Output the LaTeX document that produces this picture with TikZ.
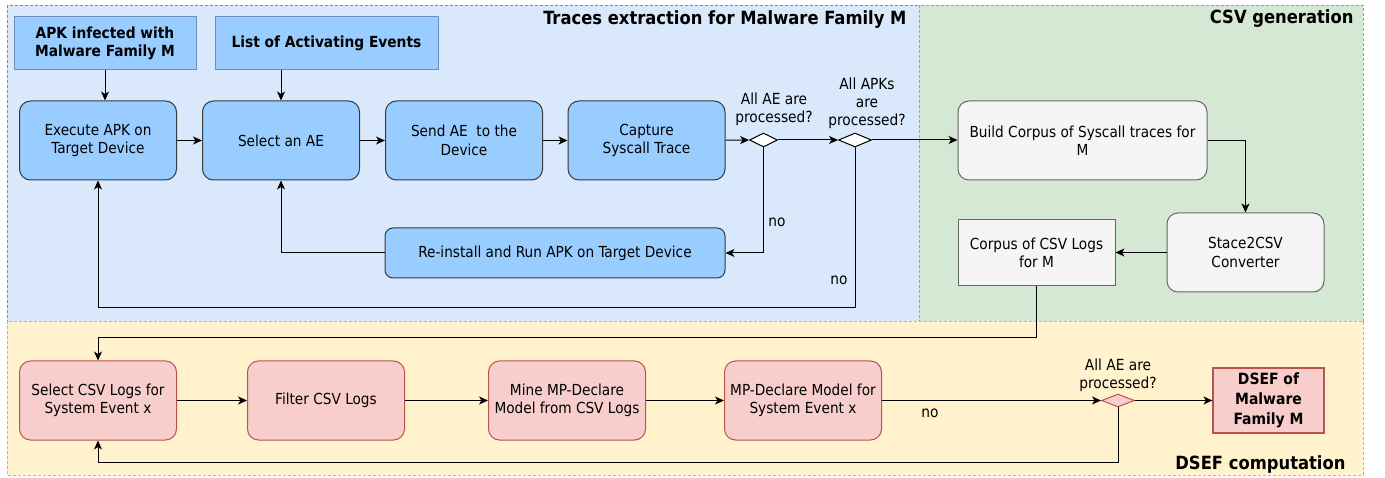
\documentclass[tikz,border=0pt]{standalone}
\usepackage{fontspec}
\setmainfont{DejaVu Sans Condensed}
\usetikzlibrary{positioning,shapes.geometric,arrows.meta}

\definecolor{bluebg}{HTML}{DAE8FC}
\definecolor{bluebd}{HTML}{6C8EBF}
\definecolor{greenbg}{HTML}{D5E8D4}
\definecolor{greenbd}{HTML}{82B366}
\definecolor{yellowbg}{HTML}{FFF2CC}
\definecolor{yellowbd}{HTML}{D6B656}
\definecolor{bluefill}{HTML}{99CCFF}
\definecolor{darkbd}{HTML}{36393D}
\definecolor{greyfill}{HTML}{F5F5F5}
\definecolor{greybd}{HTML}{666666}
\definecolor{redfill}{HTML}{F8CECC}
\definecolor{redbd}{HTML}{B85450}

\tikzset{
  region/.style={dashed, line width=0.8pt, dash pattern=on 3pt off 2pt},
  title/.style={anchor=east, font=\fontsize{18.2}{21}\selectfont\bfseries},
  stepbox/.style={rounded corners=11pt, line width=1pt, align=center,
    minimum width=157pt, minimum height=79pt, inner sep=2pt},
  bluebox/.style={stepbox, draw=darkbd, fill=bluefill},
  greybox/.style={stepbox, draw=greybd, fill=greyfill},
  redbox/.style={stepbox, draw=redbd, fill=redfill},
  inbox/.style={draw=bluebd, fill=bluefill, line width=1pt, align=center,
    minimum height=53pt, font=\fontsize{15.3}{18.5}\selectfont\bfseries},
  decision/.style={diamond, draw=black, fill=white, line width=1pt, inner sep=0pt,
    minimum width=28pt, minimum height=14pt},
  label/.style={align=center, font=\fontsize{15.3}{18}\selectfont},
  flow/.style={-{Stealth[length=9pt,width=8pt,inset=2.5pt]}, line width=1pt}
}

\begin{document}
\begin{tikzpicture}[x=1pt,y=-1pt, font=\fontsize{15.2}{18.5}\selectfont]
  \useasboundingbox (0,0) rectangle (1385,478);
  \draw[region, fill=bluebg, draw=bluebd] (7,5) rectangle (919,321);
  \draw[region, fill=greenbg, draw=greenbd] (919,5) rectangle (1363,321);
  \draw[region, fill=yellowbg, draw=yellowbd] (7,321) rectangle (1363,475);
  \node[title] (ttrace) at (910,20) {Traces extraction for Malware Family M};
  \node[title] (tcsv) at (1357,19) {CSV generation};
  \node[title] (tdsef) at (1349,464) {DSEF computation};

  \node[inbox, minimum width=182pt] (apk) at (105,43.5) {APK infected with\\Malware Family M};
  \node[inbox, minimum width=223pt] (events) at (326.5,43.5) {List of Activating Events};

  \node[bluebox] (exec) at (98,140.5) {Execute APK on\\Target Device};
  \node[bluebox] (select) at (281,140.5) {Select an AE};
  \node[bluebox] (send) at (464,140.5) {Send AE\ \ to the\\Device};
  \node[bluebox] (capture) at (646.5,140.5) {Capture\\Syscall Trace};
  \node[decision] (allae) at (763.5,140) {};
  \node[decision, minimum width=33pt] (allapk) at (855,140) {};
  \node[label] (lae) at (774,109.5) {All AE are\\processed?};
  \node[label] (lapk) at (867,103) {All APKs\\are\\processed?};
  \node[bluebox, minimum width=340pt, minimum height=50pt, rounded corners=8pt] (reinst) at (555,253) {Re-install and Run APK on Target Device};
  \node[label] (no1) at (777,222) {no};
  \node[label] (no2) at (839,280) {no};

  \node[greybox, minimum width=249pt] (build) at (1082.5,140.5) {Build Corpus of Syscall traces for\\M};
  \node[greybox] (conv) at (1245.5,252.5) {Stace2CSV\\Converter};
  \node[draw=greybd, fill=greyfill, line width=1pt, align=center, minimum width=157pt, minimum height=66pt] (csvlogs) at (1036.5,253) {Corpus of CSV Logs\\for M};

  \node[redbox] (selx) at (98,400.5) {Select CSV Logs for\\System Event x};
  \node[redbox] (filter) at (326,400.5) {Filter CSV Logs};
  \node[redbox] (mine) at (567,400.5) {Mine MP-Declare\\Model from CSV Logs};
  \node[redbox] (model) at (803,400.5) {MP-Declare Model for\\System Event x};
  \node[decision, draw=redbd, fill=redfill, minimum width=33pt, minimum height=13pt] (allx) at (1118,400.5) {};
  \node[label] (lx) at (1118,375) {All AE are\\processed?};
  \node[label] (no3) at (930,413) {no};
  \node[draw=redbd, fill=redfill, line width=1.2pt, align=center, minimum width=111pt, minimum height=65pt, font=\fontsize{15.5}{20}\selectfont\bfseries] (dsef) at (1268.5,400.5) {DSEF of\\Malware\\Family M};

  \coordinate (backapk) at (855,308);
  \coordinate (downcsv) at (1036.5,338);
  \coordinate (backx) at (1118,462);

  \draw[flow] (apk.south) -- (apk.south |- exec.north);
  \draw[flow] (select.north |- events.south) -- (select.north);
  \draw[flow] (exec) -- (select);
  \draw[flow] (select) -- (send);
  \draw[flow] (send) -- (capture);
  \draw[flow] (capture) -- (allae);
  \draw[flow] (allae) -- (allapk);
  \draw[flow] (allapk) -- (allapk -| build.west);
  \draw[flow] (allae.south) |- (reinst.east);
  \draw[flow] (reinst.west) -| (select.south);
  \draw[flow] (allapk.south) -- (backapk) -| (exec.south);
  \draw[flow] (build.east) -| (conv.north);
  \draw[flow] (conv.west) -- (conv.west -| csvlogs.east);
  \draw[flow] (csvlogs.south) -- (downcsv) -| (selx.north);
  \draw[flow] (selx) -- (filter);
  \draw[flow] (filter) -- (mine);
  \draw[flow] (mine) -- (model);
  \draw[flow] (model) -- (allx);
  \draw[flow] (allx) -- (dsef);
  \draw[flow] (allx.south) -- (backx) -| (selx.south);
\end{tikzpicture}
\end{document}
